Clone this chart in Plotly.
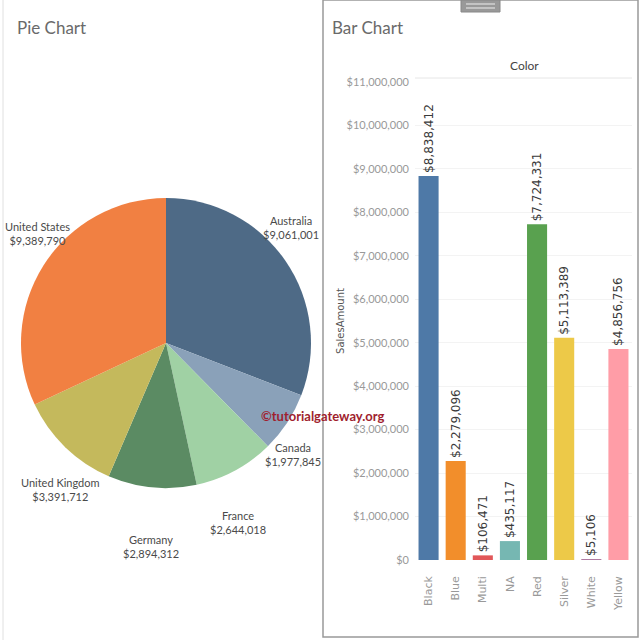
import math
import plotly.graph_objects as go

countries = ["Australia", "Canada", "France", "Germany", "United Kingdom", "United States"]
country_sales = [9061001, 1977845, 2644018, 2894312, 3391712, 9389790]
country_colors = ["#4e6a86", "#8aa1b9", "#a0d1a4", "#5b8b63", "#c4b95c", "#f18042"]

colors_cat = ["Black", "Blue", "Multi", "NA", "Red", "Silver", "White", "Yellow"]
color_sales = [8838412, 2279096, 106471, 435117, 7724331, 5113389, 5106, 4856756]
bar_colors = ["#4e79a7", "#f28e2b", "#e15759", "#76b7b2", "#59a14f", "#edc948", "#b07aa1", "#ff9da7"]

y_ticks = list(range(0, 11000001, 1000000))

W = H = 640
def px(x):
    return x / W
def py(y):
    return 1 - y / H

# pie geometry (pixels)
PIE_CX, PIE_CY, PIE_R = 166, 343, 145
LAB_AX, LAB_AY = 152, 204

fig = go.Figure()

fig.add_trace(go.Pie(
    labels=countries, values=country_sales, sort=False, direction="clockwise",
    marker=dict(colors=country_colors, line=dict(width=0)),
    textinfo="none",
    domain=dict(x=[px(PIE_CX - PIE_R), px(PIE_CX + PIE_R)], y=[py(PIE_CY + PIE_R), py(PIE_CY - PIE_R)]),
    showlegend=False, hoverinfo="label+value",
))

# pie labels, positioned from each slice's mid angle
total = sum(country_sales)
annotations = []
cum = 0
for name, val in zip(countries, country_sales):
    mid = (cum + val / 2) / total * 2 * math.pi
    cum += val
    lx = PIE_CX + LAB_AX * math.sin(mid)
    ly = PIE_CY - LAB_AY * math.cos(mid)
    annotations.append(dict(
        text=f"{name}<br>${val:,}", xref="paper", yref="paper", x=px(lx), y=py(ly),
        xanchor="center", yanchor="middle", showarrow=False, align="center",
        font=dict(family="Lato", size=11, color="#4a4a4a")))

fig.add_trace(go.Bar(
    x=colors_cat, y=color_sales, marker=dict(color=bar_colors, line=dict(width=0)),
    text=[f"${v:,}" for v in color_sales], textposition="outside", textangle=-90,
    constraintext="none",
    textfont=dict(family="DejaVu Sans", size=12, color="#3a3a3a"),
    cliponaxis=False, showlegend=False, xaxis="x", yaxis="y",
))

annotations += [
    dict(text="Pie Chart", xref="paper", yref="paper", x=px(15), y=py(27), xanchor="left",
         yanchor="middle", showarrow=False, font=dict(family="Lato", size=17, color="#6a6a6a")),
    dict(text="Bar Chart", xref="paper", yref="paper", x=px(330), y=py(27), xanchor="left",
         yanchor="middle", showarrow=False, font=dict(family="Lato", size=17, color="#6a6a6a")),
    dict(text="Color", xref="paper", yref="paper", x=px(524), y=py(65), xanchor="center",
         yanchor="middle", showarrow=False, font=dict(family="Lato", size=12, color="#444")),
    dict(text="<b>©tutorialgateway.org</b>", xref="paper", yref="paper", x=px(323), y=py(416),
         xanchor="center", yanchor="middle", showarrow=False,
         font=dict(family="Lato", size=13, color="#a01e2e")),
]

fig.update_layout(
    width=W, height=H, margin=dict(l=0, r=0, t=0, b=0, autoexpand=False),
    paper_bgcolor="white", plot_bgcolor="white",
    bargap=0.26,
    xaxis=dict(domain=[px(415), px(632)], tickangle=-90, showgrid=False, showline=False, automargin=False,
               tickfont=dict(family="DejaVu Sans", size=11, color="#999"), ticks="", anchor="y",
               ticklabelstandoff=13),
    yaxis=dict(domain=[py(560), py(82)], range=[0, 11000000], tickvals=y_ticks, tickformat="$,.0f",
               showgrid=True, gridcolor="#f3f3f3", zeroline=False, showline=False, automargin=False,
               tickfont=dict(family="Lato", size=11, color="#999"), ticks="", anchor="x",
               ticklabelstandoff=5,
               title=dict(text="SalesAmount", standoff=0,
                          font=dict(family="DejaVu Sans", size=10, color="#555"))),
    shapes=[
        dict(type="rect", xref="paper", yref="paper", x0=px(323), x1=px(638), y0=py(637), y1=py(0),
             line=dict(color="#999", width=1.5), fillcolor="rgba(0,0,0,0)"),
        dict(type="line", xref="paper", yref="paper", x0=px(3), x1=px(3), y0=0, y1=1,
             line=dict(color="#e0e0e0", width=1)),
        dict(type="line", xref="paper", yref="paper", x0=px(415), x1=px(632), y0=py(78), y1=py(78),
             line=dict(color="#e6e6e6", width=1)),
        dict(type="rect", xref="paper", yref="paper", x0=px(461), x1=px(500), y0=py(12), y1=py(0),
             line=dict(color="#888", width=1), fillcolor="#999"),
        dict(type="line", xref="paper", yref="paper", x0=px(466), x1=px(495), y0=py(4), y1=py(4),
             line=dict(color="#eee", width=1)),
        dict(type="line", xref="paper", yref="paper", x0=px(466), x1=px(495), y0=py(8), y1=py(8),
             line=dict(color="#eee", width=1)),
    ],
    annotations=annotations,
)

fig.write_html("out.html", config={"displayModeBar": False},
               post_script="document.body.style.margin='0';document.body.style.overflow='hidden';")
